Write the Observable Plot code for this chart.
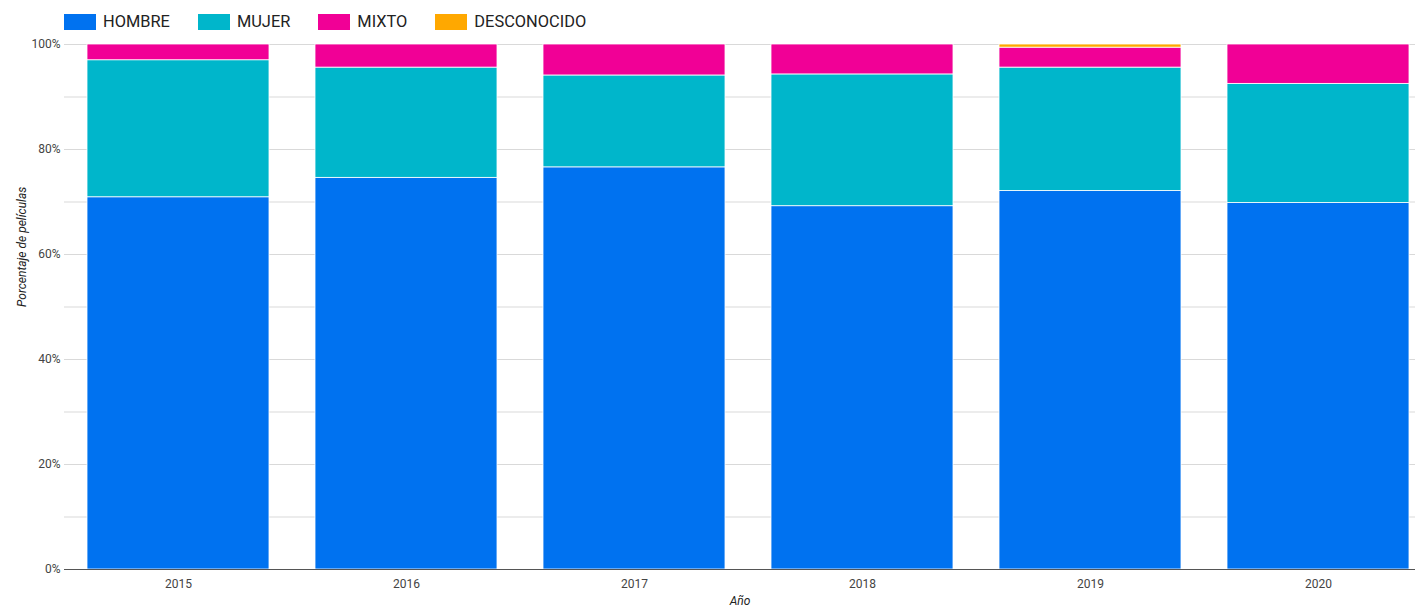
<!DOCTYPE html>
<html>
<head>
<meta charset="utf-8">
<script src="https://cdn.jsdelivr.net/npm/d3@7"></script>
<script src="https://cdn.jsdelivr.net/npm/@observablehq/plot@0.6"></script>
<style>
  html, body { margin: 0; padding: 0; background: #fff; }
  body { width: 1415px; height: 610px; overflow: hidden; font-family: Roboto, "Noto Sans", sans-serif; }
  #legend { height: 36px; display: flex; align-items: flex-start; padding-left: 64px; box-sizing: border-box; gap: 28px; }
  .item { display: flex; align-items: center; margin-top: 14px; font-size: 16.4px; color: #222; line-height: 16px; }
  .sw { width: 32px; height: 16px; margin-right: 7px; }
  #chart svg { display: block; }
</style>
</head>
<body>
<div id="legend"></div>
<div id="chart"></div>
<script>
const years = ["2015", "2016", "2017", "2018", "2019", "2020"];
const categories = ["HOMBRE", "MUJER", "MIXTO", "DESCONOCIDO"];
const colors = ["#0072f0", "#00b6cb", "#f10096", "#ffa800"];
const hombre = [70.9, 74.6, 76.6, 69.2, 72.1, 69.8];
const mujer = [26.1, 21.0, 17.5, 25.1, 23.5, 22.7];
const mixto = [3.0, 4.4, 5.9, 5.7, 3.8, 7.5];
const desconocido = [0, 0, 0, 0, 0.6, 0];
const yLabelTicks = [0, 20, 40, 60, 80, 100];
const gridTicks = [10, 20, 30, 40, 50, 60, 70, 80, 90, 100];
const yTitle = "Porcentaje de películas";
const xTitle = "Año";

const series = [hombre, mujer, mixto, desconocido];
const data = [];
categories.forEach((c, i) => {
  years.forEach((y, j) => {
    if (series[i][j] > 0) data.push({year: y, cat: c, value: series[i][j]});
  });
});

// legend
const legend = document.getElementById("legend");
categories.forEach((c, i) => {
  const it = document.createElement("div");
  it.className = "item";
  const sw = document.createElement("div");
  sw.className = "sw";
  sw.style.background = colors[i];
  const t = document.createElement("span");
  t.textContent = c;
  it.appendChild(sw);
  it.appendChild(t);
  legend.appendChild(it);
});

const W = 1415;
const chart = Plot.plot({
  width: W,
  height: 574,
  marginLeft: 64,
  marginRight: 0,
  marginTop: 8,
  marginBottom: 41,
  style: {fontFamily: "Roboto, sans-serif", fontSize: "12px", color: "#444", background: "#fff"},
  x: {domain: years, range: [64, 1432], paddingInner: 0.2, paddingOuter: 0.1, label: null, tickSize: 0, tickPadding: 10},
  y: {domain: [0, 100], ticks: yLabelTicks, tickFormat: d => d + "%", tickSize: 0, tickPadding: 4, label: null},
  color: {domain: categories, range: colors},
  marks: [
    Plot.ruleY(gridTicks, {stroke: "#d9d9d9", strokeWidth: 1}),
    Plot.barY(data, {x: "year", y: "value", fill: "cat", stroke: "#fff", strokeWidth: 0.8}),
    Plot.ruleY([0], {stroke: "#555", strokeWidth: 1}),
    Plot.text([yTitle], {frameAnchor: "left", dx: -42, rotate: -90, fontStyle: "italic", fontSize: 12, fill: "#222", text: d => d}),
    Plot.text([xTitle], {frameAnchor: "bottom", dy: 32, lineAnchor: "middle", fontStyle: "italic", fontSize: 12, fill: "#222", text: d => d})
  ]
});
document.getElementById("chart").appendChild(chart);
</script>
</body>
</html>
